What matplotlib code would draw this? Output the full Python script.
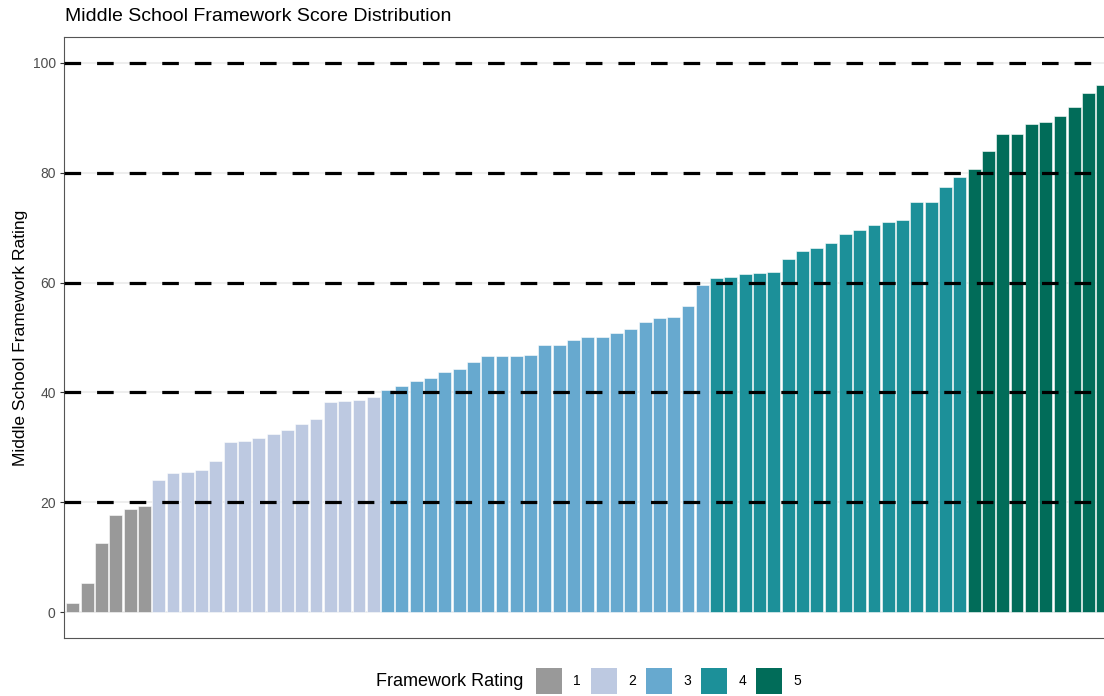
import matplotlib.pyplot as plt
from matplotlib.patches import Patch

plt.rcParams['font.family'] = ['Liberation Sans', 'DejaVu Sans']

# scores, sorted, grouped by framework rating
rating_1 = [1.6, 5.3, 12.6, 17.6, 18.8, 19.4]
rating_2 = [24.0, 25.3, 25.6, 25.9, 27.5, 31.0, 31.2, 31.7, 32.5, 33.2,
            34.2, 35.2, 38.3, 38.5, 38.7, 39.2]
rating_3 = [40.4, 41.1, 42.0, 42.7, 43.8, 44.3, 45.5, 46.6, 46.7, 46.7,
            46.9, 48.6, 48.6, 49.6, 50.1, 50.1, 50.9, 51.5, 52.8, 53.6,
            53.7, 55.7, 59.6]
rating_4 = [60.8, 61.0, 61.6, 61.7, 61.9, 64.2, 65.7, 66.3, 67.2, 68.9,
            69.5, 70.4, 71.1, 71.3, 74.6, 74.7, 77.4, 79.2]
rating_5 = [80.7, 84.0, 87.1, 87.1, 88.9, 89.2, 90.4, 92.0, 94.5, 96.0]

groups = [rating_1, rating_2, rating_3, rating_4, rating_5]
labels = ['1', '2', '3', '4', '5']
colors = ['#999999', '#bdc9e1', '#67a9cf', '#1c9099', '#016c59']
ref_lines = [20, 40, 60, 80, 100]
yticks = [0, 20, 40, 60, 80, 100]

fig = plt.figure(figsize=(11.04, 6.96), dpi=100)
ax = fig.add_axes([64 / 1104, 58 / 696, 1040 / 1104, 601 / 696])

x0 = 0
for vals, c in zip(groups, colors):
    xs = list(range(x0, x0 + len(vals)))
    ax.bar(xs, vals, width=0.9, color=c, edgecolor='white', linewidth=0.4, zorder=2)
    x0 += len(vals)

for y in ref_lines:
    ax.axhline(y, color='black', lw=2.3, linestyle=(0, (5.2, 5.0)), zorder=3)

ax.set_xlim(-0.618, 72.08)
ax.set_ylim(-4.7, 104.7)
ax.set_xticks([])
ax.set_yticks(yticks)
ax.yaxis.grid(True, color='#ebebeb', lw=1.2, zorder=0)
ax.set_axisbelow(True)
ax.tick_params(axis='y', colors='#333333', labelcolor='#4d4d4d', labelsize=10,
               length=3, width=0.8, pad=3)
for side in ['left', 'top', 'bottom']:
    ax.spines[side].set_color('#555555')
    ax.spines[side].set_linewidth(0.8)
ax.spines['right'].set_visible(False)

ax.set_ylabel('Middle School Framework Rating', fontsize=12.5, labelpad=3)
fig.text(65 / 1104, 1 - 16.5 / 696, 'Middle School Framework Score Distribution',
         fontsize=14, va='center', ha='left')

handles = [Patch(facecolor=c, edgecolor='none') for c in colors]
fig.text(376 / 1104, 1 - 682 / 696, 'Framework Rating', fontsize=13,
         va='center', ha='left')
fig.legend(handles, labels, ncol=5, loc='center left',
           bbox_to_anchor=(536 / 1104, 1 - 681 / 696), frameon=False,
           fontsize=10, handlelength=1.9, handleheight=2.5,
           handletextpad=0.8, columnspacing=0.7, borderpad=0, borderaxespad=0)

fig.savefig('out.png', dpi=100)
